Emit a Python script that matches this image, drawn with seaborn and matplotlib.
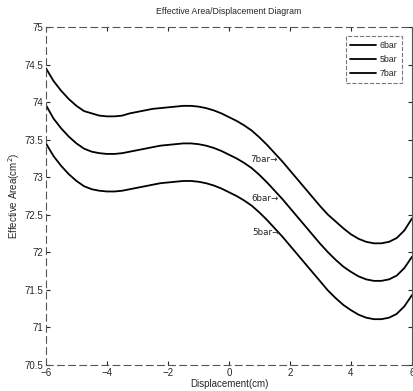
import numpy as np
import pandas as pd
import matplotlib
matplotlib.use("Agg")
import matplotlib.pyplot as plt
import matplotlib.ticker as mticker
import seaborn as sns

# Dados
deslocamento = [-6.0, -5.75, -5.5, -5.25, -5.0, -4.75, -4.5, -4.25, -4.0, -3.75,
                -3.5, -3.25, -3.0, -2.75, -2.5, -2.25, -2.0, -1.75, -1.5, -1.25,
                -1.0, -0.75, -0.5, -0.25, 0.0, 0.25, 0.5, 0.75, 1.0, 1.25,
                1.5, 1.75, 2.0, 2.25, 2.5, 2.75, 3.0, 3.25, 3.5, 3.75,
                4.0, 4.25, 4.5, 4.75, 5.0, 5.25, 5.5, 5.75, 6.0]
area_7bar = [74.45, 74.28, 74.15, 74.04, 73.95, 73.88, 73.85, 73.82, 73.81, 73.81,
             73.82, 73.85, 73.87, 73.89, 73.91, 73.92, 73.93, 73.94, 73.95, 73.95,
             73.94, 73.92, 73.89, 73.85, 73.80, 73.75, 73.69, 73.62, 73.53, 73.43,
             73.32, 73.21, 73.09, 72.97, 72.85, 72.73, 72.61, 72.50, 72.41, 72.32,
             72.24, 72.18, 72.14, 72.12, 72.12, 72.14, 72.19, 72.29, 72.45]
area_6bar = [73.96, 73.78, 73.65, 73.54, 73.45, 73.38, 73.34, 73.32, 73.31, 73.31,
             73.32, 73.34, 73.36, 73.38, 73.40, 73.42, 73.43, 73.44, 73.45, 73.45,
             73.44, 73.42, 73.39, 73.35, 73.30, 73.25, 73.19, 73.12, 73.03, 72.93,
             72.82, 72.71, 72.59, 72.47, 72.35, 72.23, 72.11, 72.00, 71.90, 71.81,
             71.74, 71.68, 71.64, 71.62, 71.62, 71.64, 71.69, 71.79, 71.94]
area_5bar = [73.45, 73.28, 73.15, 73.04, 72.95, 72.88, 72.84, 72.82, 72.81, 72.81,
             72.82, 72.84, 72.86, 72.88, 72.90, 72.92, 72.93, 72.94, 72.95, 72.95,
             72.94, 72.92, 72.89, 72.85, 72.80, 72.75, 72.69, 72.62, 72.53, 72.43,
             72.32, 72.21, 72.09, 71.97, 71.85, 71.73, 71.61, 71.49, 71.39, 71.30,
             71.23, 71.17, 71.13, 71.11, 71.11, 71.13, 71.18, 71.28, 71.43]
series = ["6bar", "5bar", "7bar"]
rotulos = ["7bar", "6bar", "5bar"]
rotulo_x = [0.7, 0.75, 0.75]
rotulo_y = [73.23, 72.71, 72.27]
xticks = [-6, -4, -2, 0, 2, 4, 6]
yticks = [70.5, 71, 71.5, 72, 72.5, 73, 73.5, 74, 74.5, 75]

df = pd.concat([
    pd.DataFrame({"x": deslocamento, "y": area_6bar, "serie": "6bar"}),
    pd.DataFrame({"x": deslocamento, "y": area_5bar, "serie": "5bar"}),
    pd.DataFrame({"x": deslocamento, "y": area_7bar, "serie": "7bar"}),
])

sns.set_style("white")
plt.rcParams["font.family"] = ["Liberation Sans Narrow", "Liberation Sans", "DejaVu Sans"]

fig = plt.figure(figsize=(4.14, 3.91), dpi=100)
ax = fig.add_axes([0.111, 0.0665, 0.884, 0.8645])

# Curvas
sns.lineplot(data=df, x="x", y="y", hue="serie", hue_order=series,
             palette=["black"] * 3, lw=1.3, ax=ax)

# Rotulos com seta
for t, xx, yy in zip(rotulos, rotulo_x, rotulo_y):
    ax.text(xx, yy, t + "\u2192", fontsize=6.3, va="center", ha="left",
            family=["Liberation Sans Narrow", "DejaVu Sans"])

ax.set_xlim(-6, 6)
ax.set_ylim(70.5, 75)
ax.set_xticks(xticks)
ax.set_yticks(yticks)
ax.yaxis.set_major_formatter(mticker.FormatStrFormatter("%g"))
ax.tick_params(direction="in", length=3, labelsize=7, top=True, right=True,
               bottom=True, left=True, pad=2)
for s in ax.spines.values():
    s.set_linestyle((0, (6, 4)))
    s.set_color("#555555")
    s.set_linewidth(0.8)
ax.spines["right"].set_linestyle("-")

ax.set_title("Effective Area/Displacement Diagram", fontsize=6.3, pad=9)
ax.set_xlabel("Displacement(cm)", fontsize=7, labelpad=1)
ax.set_ylabel("Effective Area(cm$^2$)", fontsize=7, labelpad=2)

# Legenda
leg = ax.legend(loc="upper right", fontsize=6.3, frameon=True, fancybox=False,
                handlelength=3.0, handletextpad=0.4, borderpad=0.5,
                labelspacing=0.6, bbox_to_anchor=(0.985, 0.985))
leg.get_frame().set_edgecolor("#555555")
leg.get_frame().set_linestyle("--")
leg.get_frame().set_linewidth(0.8)

fig.savefig("out.png", dpi=100)
